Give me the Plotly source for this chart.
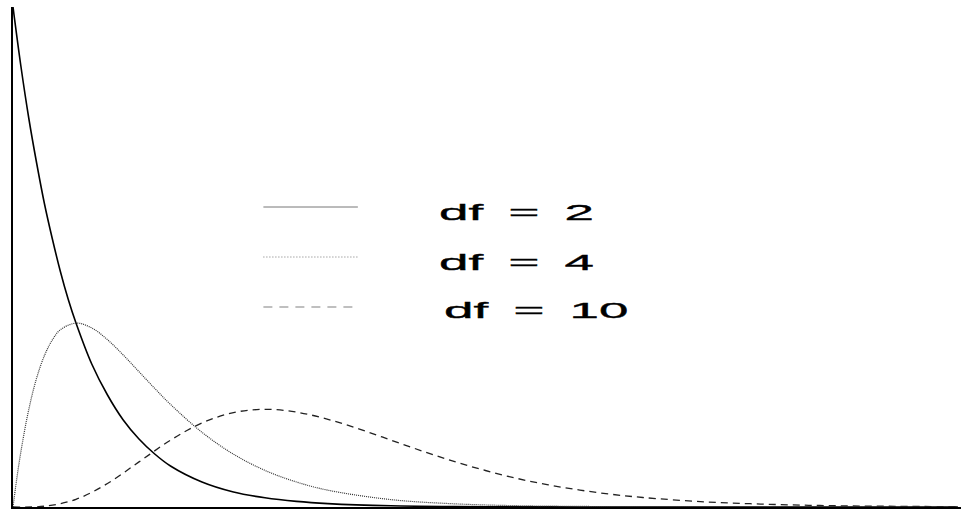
import plotly.graph_objects as go

# Chi-square densities for three degrees of freedom
x_df2 = [0, 0.25, 0.5, 0.75, 1, 1.25, 1.5, 1.75, 2, 2.5, 3, 3.5, 4, 4.5, 5, 6, 7, 8, 9, 10,
         12, 14, 16, 18, 20, 24, 30]
y_df2 = [0.5, 0.441, 0.389, 0.344, 0.303, 0.268, 0.236, 0.208, 0.184, 0.143, 0.112, 0.087,
         0.068, 0.053, 0.041, 0.025, 0.015, 0.0092, 0.0056, 0.0034,
         0.0012, 0.00046, 0.00017, 0.00006, 0.00002, 0.0, 0.0]

x_df4 = [0, 0.1, 0.25, 0.5, 0.75, 1, 1.25, 1.5, 2, 2.5, 3, 3.5, 4, 4.5, 5, 6, 7, 8, 9, 10,
         12, 14, 16, 18, 20, 24, 30]
y_df4 = [0.0, 0.0238, 0.0552, 0.0974, 0.1289, 0.1516, 0.1671, 0.1771, 0.1839, 0.1791,
         0.1673, 0.1520, 0.1353, 0.1186, 0.1026, 0.0747, 0.0528, 0.0366, 0.0250, 0.0168,
         0.0074, 0.0032, 0.0013, 0.0006, 0.0002, 0.0, 0.0]

x_df10 = [0, 1, 2, 3, 4, 5, 6, 7, 8, 9, 10, 11, 12, 13, 14, 15, 16, 17, 18, 19, 20,
          22, 24, 26, 28, 30]
y_df10 = [0.0, 0.0008, 0.0077, 0.0235, 0.0451, 0.0668, 0.0840, 0.0944, 0.0977, 0.0949,
          0.0877, 0.0779, 0.0669, 0.0559, 0.0456, 0.0365, 0.0286, 0.0221, 0.0169, 0.0127,
          0.0095, 0.0051, 0.0027, 0.0013, 0.0007, 0.0003]

legend_labels = ["df = 2", "df = 4", "df = 10"]
legend_y = [0.3, 0.25, 0.2]          # data y of each legend sample line
legend_text_y = [0.295, 0.245, 0.197]
legend_text_x = [13.45, 13.45, 13.62]

fig = go.Figure()

fig.add_trace(go.Scatter(x=x_df2, y=y_df2, mode="lines", line_shape="spline",
                         line=dict(color="black", width=1.6), showlegend=False))
fig.add_trace(go.Scatter(x=x_df4, y=y_df4, mode="lines", line_shape="spline",
                         line=dict(color="#333333", width=1.2, dash="1px,1px"),
                         showlegend=False))
fig.add_trace(go.Scatter(x=x_df10, y=y_df10, mode="lines", line_shape="spline",
                         line=dict(color="#222222", width=1.3, dash="7px,5px"),
                         showlegend=False))

# Hand-drawn key: sample line + label for each curve
styles = [dict(color="#777777", width=1, dash="solid"),
          dict(color="#777777", width=1, dash="1px,2px"),
          dict(color="#aaaaaa", width=1.5, dash="9px,7px")]
for yl, st in zip(legend_y, styles):
    fig.add_shape(type="line", xref="x", yref="y", x0=7.95, x1=10.95, y0=yl, y1=yl,
                  line=st)

# Labels use a wider gap around the equals sign
for lab, tx, ty in zip(legend_labels, legend_text_x, legend_text_y):
    wide = lab.replace(" ", "\u00a0\u2009")
    fig.add_annotation(x=tx, y=ty, xref="x", yref="y", text=wide,
                       showarrow=False, xanchor="left", yanchor="middle",
                       font=dict(family="Liberation Sans, Arial, sans-serif", size=23,
                                 color="black"))

fig.update_xaxes(range=[0, 30.1], showline=True, linecolor="black", linewidth=2,
                 showgrid=False, zeroline=False, showticklabels=False, ticks="")
fig.update_yaxes(range=[0, 0.5], showline=True, linecolor="black", linewidth=2,
                 showgrid=False, zeroline=False, showticklabels=False, ticks="")

fig.update_layout(width=961, height=510, margin=dict(l=13, r=0, t=7, b=3),
                  plot_bgcolor="white", paper_bgcolor="white")

# Widen the key labels horizontally
stretch_js = """
var gd = document.getElementById('{plot_id}');
function widen(){
  document.querySelectorAll('.annotation-text').forEach(function(t){
    t.style.transformBox = 'fill-box';
    t.style.transformOrigin = '0% 50%';
    t.style.transform = 'scaleX(2.3)';
    t.style.stroke = 'black';
    t.style.strokeWidth = '0.35px';
  });
}
widen();
if (gd && gd.on) { gd.on('plotly_afterplot', widen); }
"""

fig.write_html("out.html", post_script=stretch_js)
